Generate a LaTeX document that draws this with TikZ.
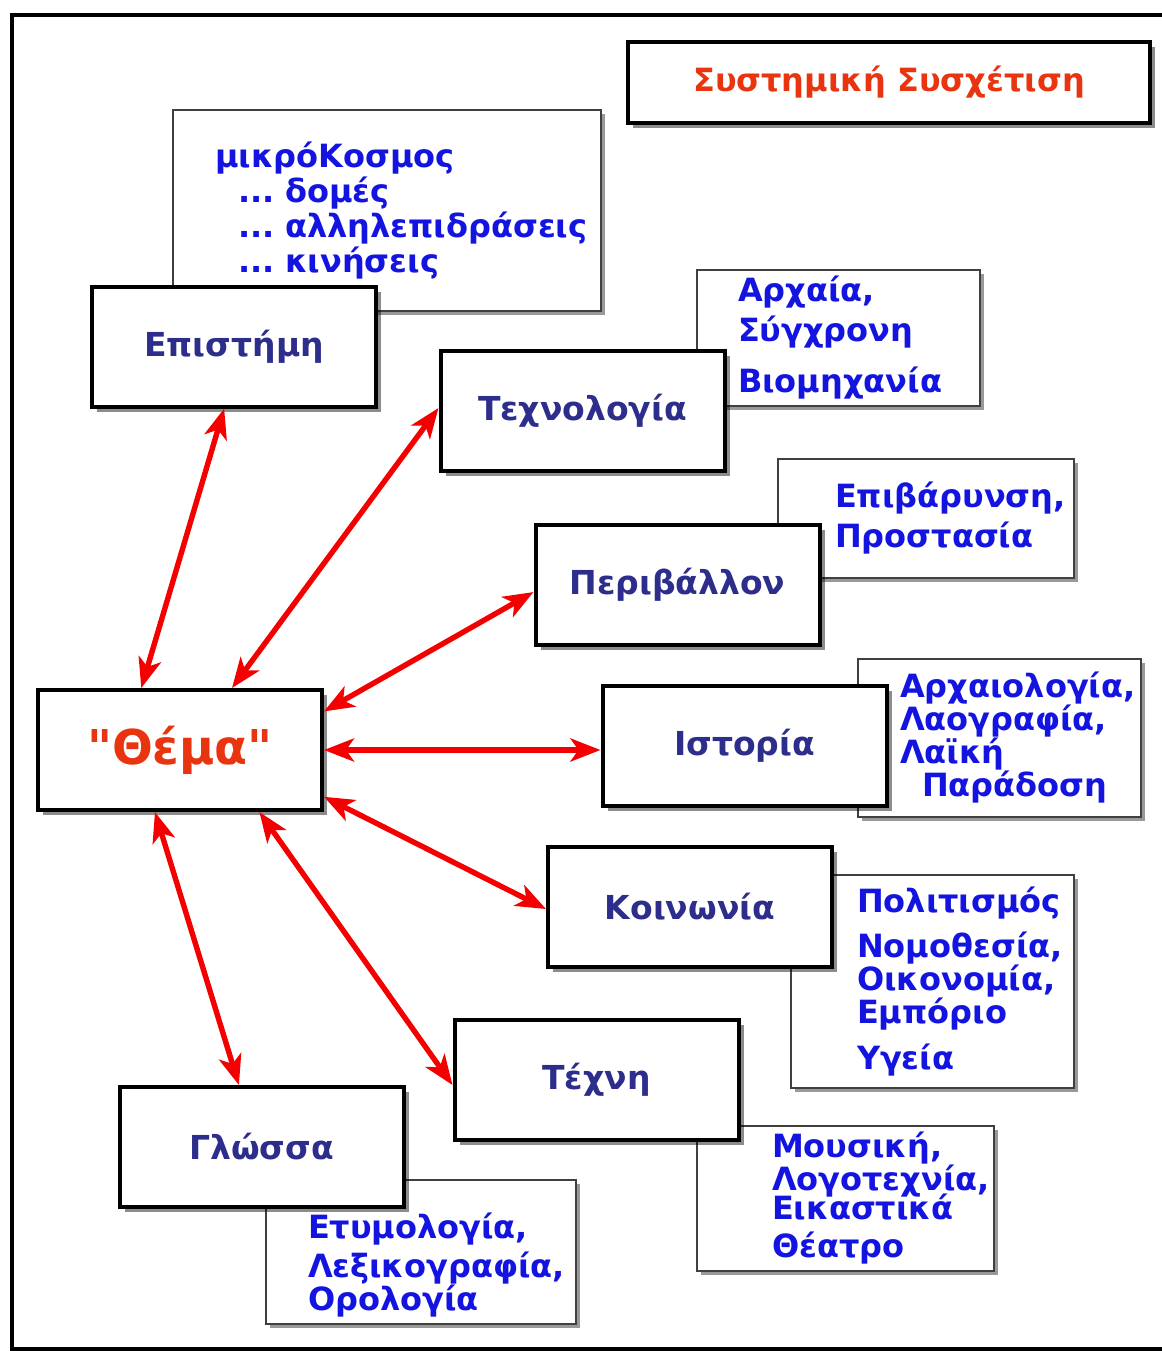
\documentclass[tikz,border=0pt]{standalone}
\usepackage{fontspec}
\setmainfont{DejaVu Sans}[Ligatures=TeXOff]
\usepackage{xcolor}
\usepackage{tikz}
\usetikzlibrary{arrows.meta,shadows}
\hyphenpenalty=10000
\exhyphenpenalty=10000
\definecolor{topicblue}{RGB}{45,45,140}
\definecolor{noteblue}{RGB}{20,20,225}
\definecolor{titlered}{RGB}{232,52,15}
\definecolor{arrowred}{RGB}{245,0,0}
\tikzset{
  topic/.style={draw, line width=2pt, fill=white, minimum width=142pt, minimum height=60pt,
                text=topicblue, font=\fontsize{16.5}{19}\selectfont\bfseries,
                drop shadow={shadow xshift=2.5pt, shadow yshift=-2.5pt, fill=black, opacity=0.45}},
  note/.style={draw=black!75, line width=1pt, fill=white, align=left, text=noteblue,
               font=\fontsize{16}{16.5}\selectfont\bfseries,
               drop shadow={shadow xshift=2pt, shadow yshift=-2pt, fill=black, opacity=0.4}},
  link/.style={draw=arrowred, line width=2.7pt, >={Stealth[length=15pt,width=11.5pt,inset=4pt]}, <->},
}

\begin{document}
\begin{tikzpicture}[x=0.5pt, y=-0.5pt]
  \useasboundingbox (0,0) rectangle (1162,1351);
  % frame
  \draw[line width=1.6pt] (12,15) rectangle (1180,1349);
  \node[topic, minimum width=261pt, minimum height=40.5pt, text=titlered,
        font=\fontsize{16}{19}\selectfont\bfseries] (title) at (889,82.5) {Συστημική Συσχέτιση};

  % notes behind the topics
  \node[note, text width=172pt, inner xsep=21pt, minimum height=100.5pt] (mikro) at (387,210.5)
    {μικρόΚοσμος\\[1pt] \hspace*{11.5pt}...~δομές\\[1pt] \hspace*{11.5pt}...~αλληλεπιδράσεις\\[1pt] \hspace*{11.5pt}...~κινήσεις};
  \node[note, text width=100.5pt, inner xsep=20.5pt, minimum height=67pt] (archaia) at (838.5,338)
    {Αρχαία,\\[3.5pt] Σύγχρονη\\[9pt] Βιομηχανία};
  \node[note, text width=91pt, inner xsep=28.5pt, minimum height=59.5pt] (epivar) at (926,518.5)
    {Επιβάρυνση,\\[3.5pt] Προστασία};
  \node[note, text width=99.5pt, inner xsep=21pt, minimum height=79pt] (archaio) at (999.5,738)
    {Αρχαιολογία,\\ Λαογραφία,\\ Λαϊκή\\ \hspace*{11pt}Παράδοση};
  \node[note, text width=75.5pt, inner xsep=33pt, minimum height=106.5pt] (politism) at (932.5,981.5)
    {Πολιτισμός\\[6pt] Νομοθεσία,\\ Οικονομία,\\ Εμπόριο\\[6.5pt] Υγεία};
  \node[note, text width=73.5pt, inner xsep=37.5pt, minimum height=71.5pt] (mousiki) at (845.5,1198.5)
    {Μουσική,\\ Λογοτεχνία,\\[-2pt] Εικαστικά\\[2.5pt] Θέατρο};
  \node[note, text width=113pt, inner xsep=21pt, minimum height=70.5pt] (etymo) at (421,1251.5)
    {\rule{0pt}{26pt}Ετυμολογία,\\[3pt] Λεξικογραφία,\\ Ορολογία};

  % topics
  \node[topic] (episteme) at (234,346.5) {Επιστήμη};
  \node[topic] (techno) at (582.5,410.5) {Τεχνολογία};
  \node[topic] (perival) at (677.5,584.5) {Περιβάλλον};
  \node[topic, text=titlered, font=\fontsize{24}{28}\selectfont\bfseries] (thema) at (180,750) {"Θέμα"};
  \node[topic] (istoria) at (744.5,746) {Ιστορία};
  \node[topic] (koinonia) at (690,906.5) {Κοινωνία};
  \node[topic] (techni) at (596.5,1080) {Τέχνη};
  \node[topic] (glossa) at (261.5,1147) {Γλώσσα};

  % links from the centre
  \draw[link] (thema.122) -- (episteme.261.5);
  \draw[link] (thema.50) -- (techno.179);
  \draw[link] (thema.15.7) -- (perival.183.4);
  \draw[link] (thema.east) -- (thema.east -| istoria.west);
  \draw[link] (thema.342.4) -- (koinonia.181.8);
  \draw[link] (thema.322) -- (techni.182);
  \draw[link] (thema.248.2) -- (glossa.110.6);
\end{tikzpicture}
\end{document}
